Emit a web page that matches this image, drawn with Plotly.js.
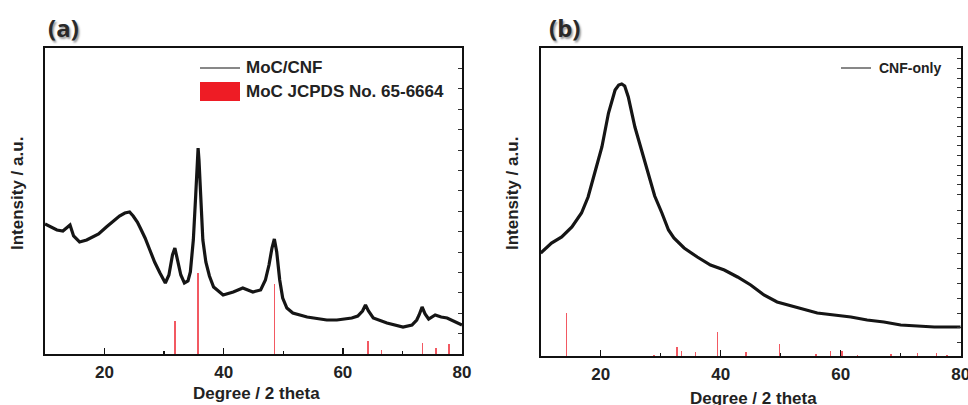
<!DOCTYPE html>
<html><head><meta charset="utf-8">
<script src="https://cdn.plot.ly/plotly-3.0.1.min.js"></script>
<style>html,body{margin:0;padding:0;background:#fff}#c{width:968px;height:405px}</style>
</head><body><div id="c"></div>
<script>
// Panel (a): MoC/CNF XRD pattern (2theta, intensity a.u.)
const aTheta = [10.0,11.0,12.0,13.0,13.7,14.2,14.8,15.8,17.0,18.0,19.0,20.3,21.5,22.5,23.4,24.2,24.8,25.5,26.0,26.8,27.6,28.4,29.3,30.2,30.8,31.4,31.8,32.2,32.8,33.4,34.0,34.4,34.9,35.3,35.55,35.7,35.85,36.1,36.5,37.0,37.6,38.3,39.9,41.6,43.2,44.9,46.2,47.0,47.6,48.1,48.5,48.9,49.4,49.9,50.6,51.6,54.0,57.3,59.0,61.5,62.5,63.3,63.8,64.3,65.1,67.4,70.1,71.6,72.4,72.8,73.3,73.8,74.4,75.5,76.5,77.5,78.7,80.0];
const aInt   = [130,127,124,123,126,129,118,112,114,117,120,127,133,138,141,142,138,132,126,116,104,92,81,71,79,99,106,96,79,71,73,82,114,159,194,206,194,159,114,92,78,67,59,62,66,62,64,74,89,106,115,102,74,56,46,41,37,34,34,36,38,43,49,43,36,31,27,29,34,39,47,40,35,39,37,36,33,29];
// MoC JCPDS No. 65-6664 reference sticks
const refATheta = [31.8,35.7,48.5,64.2,66.5,73.4,75.6,77.8];
const refAInt   = [33,81,70,13,4,11,6,10];

// Panel (b): CNF-only XRD pattern
const bTheta = [10.0,11.0,11.8,13.5,15.2,16.8,17.9,19.0,20.2,21.3,22.4,23.0,23.5,24.0,24.6,25.7,26.8,27.9,29.0,30.2,31.3,32.2,33.9,36.1,38.3,40.6,42.8,45.0,47.2,49.4,51.7,53.9,56.1,58.9,61.7,64.4,67.2,70.0,72.8,75.6,80.0];
const bInt   = [103,109,113,119,129,143,159,183,209,243,266,271,272,270,259,229,206,183,160,143,126,118,108,99,91,86,79,71,61,54,50,47,43,41,39,36,34,31,30,29,29];
const refBTheta = [14.3,28.9,32.7,33.5,35.8,39.5,44.2,49.8,55.9,58.3,60.2,62.8,68.4,72.8,76.0,77.7];
const refBInt   = [43,1,9,5,4,24,4,12,2,5,5,1,2,3,3,1];

const xTickVals = [20,40,60,80];
const xTickText = ['20','40','60','80'];

const W = 968, H = 405;
const X = p => p / W, Y = p => 1 - p / H;
const F = 'Liberation Sans, Arial, sans-serif';

const traces = [
  {type:'bar', x:refATheta, y:refAInt, width:0.25, marker:{color:'rgba(240,60,70,0.85)', line:{width:0}}, xaxis:'x', yaxis:'y', showlegend:false, hoverinfo:'skip'},
  {type:'scatter', mode:'lines', x:aTheta, y:aInt, line:{color:'#151515', width:3.2}, xaxis:'x', yaxis:'y', showlegend:false},
  {type:'bar', x:refBTheta, y:refBInt, width:0.25, marker:{color:'rgba(240,60,70,0.85)', line:{width:0}}, xaxis:'x2', yaxis:'y2', showlegend:false, hoverinfo:'skip'},
  {type:'scatter', mode:'lines', x:bTheta, y:bInt, line:{color:'#151515', width:3.2}, xaxis:'x2', yaxis:'y2', showlegend:false}
];

function xax(domain, anchor){
  return {domain:domain, anchor:anchor, range:[10,80], showgrid:false, zeroline:false,
    showline:true, mirror:true, linecolor:'#111', linewidth:2,
    ticks:'inside', ticklen:6, tickwidth:1.5, tickcolor:'#111',
    tickmode:'array', tickvals:xTickVals, ticktext:xTickText, ticklabeloverflow:'allow',
    minor:{tickmode:'array', tickvals:[30,50,70], ticks:'inside', ticklen:3, tickwidth:1.5, tickcolor:'#111'},
    tickfont:{family:F, size:17, color:'#222', weight:'bold'}, ticklabelstandoff:2};
}

const bTicks = [14,29,43,58,73,88,103,118,133,146,162,172,181,191,201,211,220,230,239,249,259,269,278,288,298];

function ann(text, px, py, size, extra){
  return Object.assign({text:text, xref:'paper', yref:'paper', x:X(px), y:Y(py), xanchor:'center', yanchor:'middle',
    showarrow:false, font:{family:F, size:size, color:'#222', weight:'bold'}}, extra || {});
}
const panelFont = {family:'Open Sans, sans-serif', size:24, color:'#2a2a2a', weight:'bold', shadow:'1.5px 1.5px 2px #999'};

const layout = {
  width:W, height:H, margin:{l:0,r:0,t:0,b:0}, paper_bgcolor:'#fff', plot_bgcolor:'#fff',
  bargap:0, showlegend:false,
  xaxis: xax([X(45), X(462)], 'y'),
  yaxis: {domain:[Y(354), Y(48)], anchor:'x', range:[0,306], side:'right', showgrid:false, zeroline:false,
    showline:true, mirror:true, linecolor:'#111', linewidth:2, ticks:'inside', ticklen:4, tickwidth:1, tickcolor:'#333',
    tick0:0, dtick:20.4, showticklabels:false},
  xaxis2: xax([X(540.7), X(960.7)], 'y2'),
  yaxis2: {domain:[Y(356), Y(48)], anchor:'x2', range:[0,308], side:'right', showgrid:false, zeroline:false,
    showline:true, mirror:true, linecolor:'#111', linewidth:2, ticks:'inside', ticklen:4, tickwidth:1, tickcolor:'#333',
    tickmode:'array', tickvals:bTicks, showticklabels:false},
  shapes:[
    {type:'line', xref:'paper', yref:'paper', x0:X(200), x1:X(240), y0:Y(68), y1:Y(68), line:{color:'#111', width:1}},
    {type:'rect', xref:'paper', yref:'paper', x0:X(200), x1:X(240), y0:Y(101), y1:Y(82), fillcolor:'#ee1c25', line:{width:0}},
    {type:'line', xref:'paper', yref:'paper', x0:X(841), x1:X(871), y0:Y(68), y1:Y(68), line:{color:'#111', width:1}}
  ],
  annotations:[
    ann('(a)', 63, 28, 24, {font:panelFont}),
    ann('(b)', 564, 28, 24, {font:panelFont}),
    ann('MoC/CNF', 244, 68, 17, {xanchor:'left'}),
    ann('MoC JCPDS No. 65-6664', 244, 91.5, 17, {xanchor:'left'}),
    ann('CNF-only', 877, 68, 14, {xanchor:'left'}),
    ann('Intensity / a.u.', 18, 194, 17, {textangle:-90}),
    ann('Intensity / a.u.', 513, 194, 17, {textangle:-90}),
    ann('Degree / 2 theta', 256, 393, 17),
    ann('Degree / 2 theta', 753, 398, 17)
  ]
};

Plotly.newPlot('c', traces, layout, {displayModeBar:false, staticPlot:true});
</script>
</body></html>
